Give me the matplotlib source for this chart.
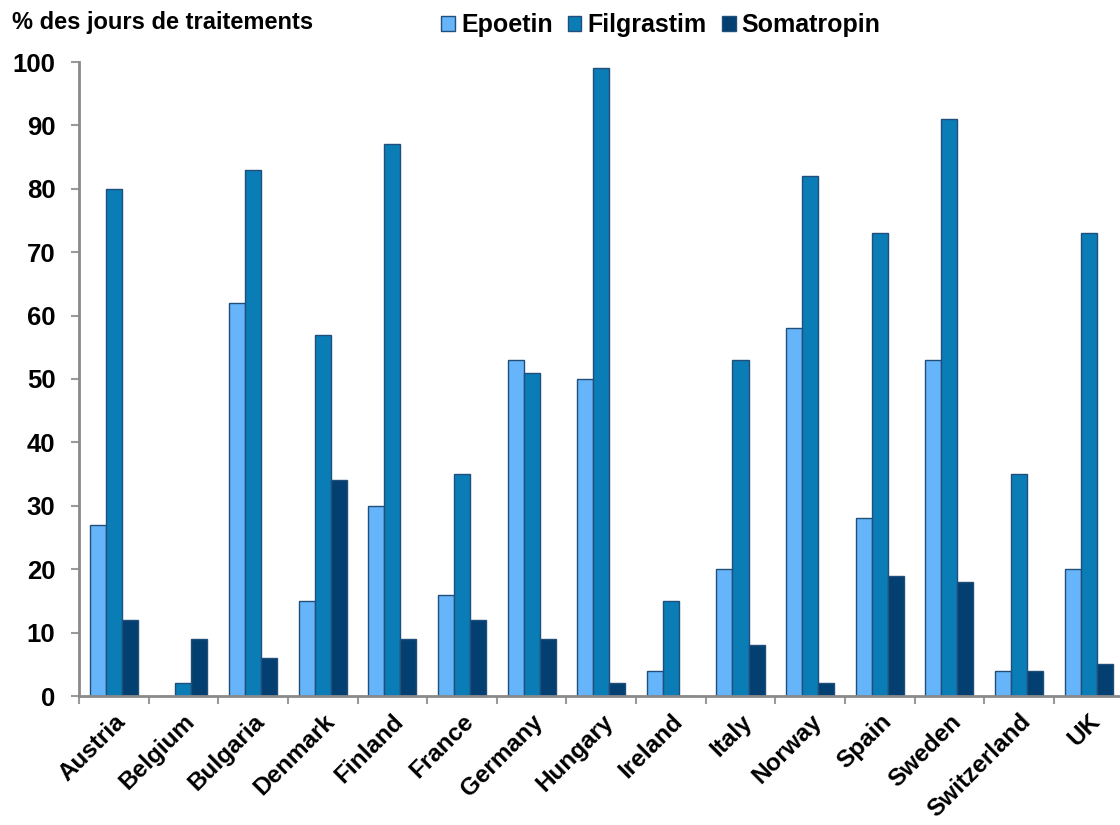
import numpy as np
import matplotlib.pyplot as plt

plt.rcParams['font.family'] = ['Liberation Sans', 'DejaVu Sans']

countries = ['Austria', 'Belgium', 'Bulgaria', 'Denmark', 'Finland', 'France', 'Germany',
             'Hungary', 'Ireland', 'Italy', 'Norway', 'Spain', 'Sweden', 'Switzerland', 'UK']
epoetin = [27, 0, 62, 15, 30, 16, 53, 50, 4, 20, 58, 28, 53, 4, 20]
filgrastim = [80, 2, 83, 57, 87, 35, 51, 99, 15, 53, 82, 73, 91, 35, 73]
somatropin = [12, 9, 6, 34, 9, 12, 9, 2, 0, 8, 2, 19, 18, 4, 5]

series = [('Epoetin', epoetin, '#66b5fa'),
          ('Filgrastim', filgrastim, '#0a7db6'),
          ('Somatropin', somatropin, '#033f70')]

fig = plt.figure(figsize=(11.2, 8.25), dpi=100)
ax = fig.add_axes([79/1120, 129/825, 1 - 79/1120, 634/825])

x = np.arange(len(countries))
w = 0.23
for k, (name, vals, col) in enumerate(series):
    ax.bar(x + (k - 1)*w, vals, w, color=col, edgecolor='#1f4f7a', linewidth=1.0,
           label=name, zorder=2)

ax.set_ylim(0, 100)
ax.set_xlim(-0.5, 14.45)
ax.set_yticks(np.arange(0, 101, 10))
ax.set_xticks(x)
ax.set_xticklabels(countries, rotation=45, ha='right', rotation_mode='anchor',
                   fontsize=17.5, fontweight='bold')
ax.set_xticks(np.arange(-0.5, 14.5, 1), minor=True)
ax.tick_params(axis='x', which='major', length=0, pad=10)
ax.tick_params(axis='x', which='minor', length=6, width=1.5, color='#9a9a9a')
ax.tick_params(axis='y', length=6, width=1.5, color='#9a9a9a', pad=11)
for lab in ax.get_yticklabels():
    lab.set_fontsize(18.5)
    lab.set_fontweight('bold')

for s in ['top', 'right']:
    ax.spines[s].set_visible(False)
for s in ['left', 'bottom']:
    ax.spines[s].set_color('#8a8a8a')
    ax.spines[s].set_linewidth(2)

fig.text(12/1120, 1 - 22/825, '% des jours de traitements', fontsize=17,
         fontweight='bold', va='center', ha='left')

leg = ax.legend(loc='center left', bbox_to_anchor=(441/1120, 1 - 25/825),
                bbox_transform=fig.transFigure, ncol=3, frameon=False,
                prop={'size': 18, 'weight': 'bold'}, handlelength=0.55,
                handleheight=0.55, handletextpad=0.25, columnspacing=0.6,
                borderpad=0, borderaxespad=0)

fig.savefig('out.png', dpi=100)
